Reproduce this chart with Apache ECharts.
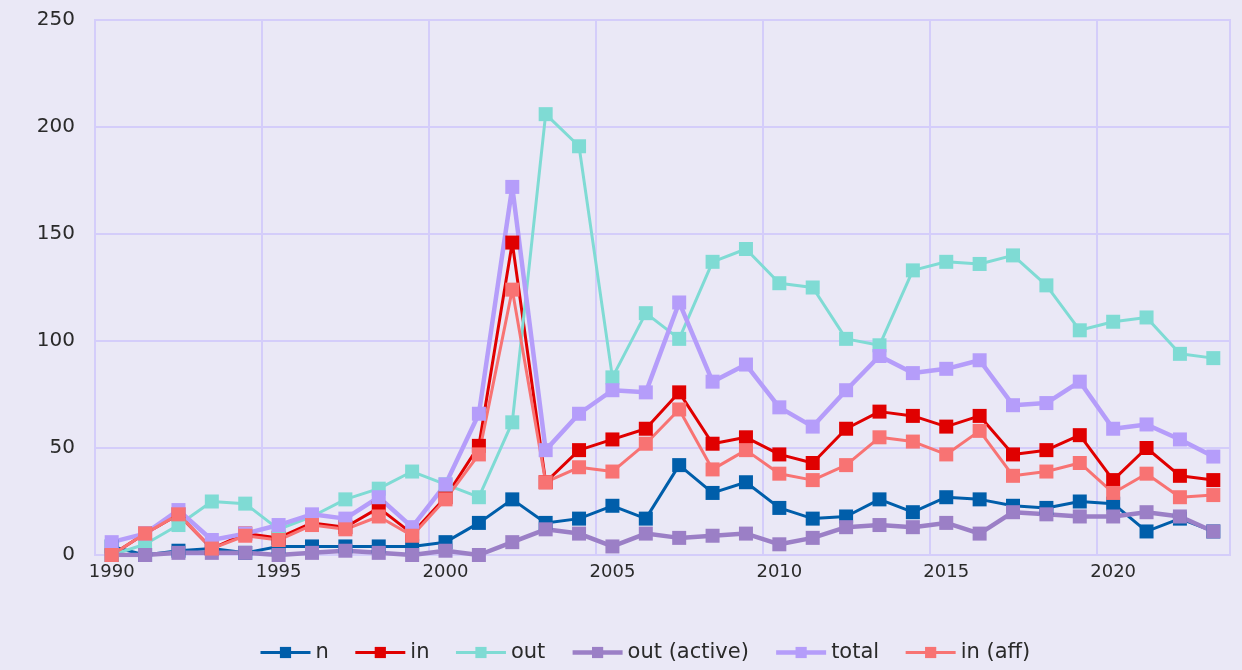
<!DOCTYPE html>
<html>
<head>
<meta charset="utf-8">
<script src="https://cdn.jsdelivr.net/npm/echarts@6/dist/echarts.min.js"></script>
<style>
  html, body { margin: 0; padding: 0; background: #eae8f6; }
  #chart { width: 1242px; height: 670px; }
</style>
</head>
<body>
<div id="chart"></div>
<script>
const years = [];
for (let y = 1990; y <= 2023; y++) years.push(String(y));

const nValues = [4, 0, 2, 3, 1, 4, 4, 4, 4, 4, 6, 15, 26, 15, 17, 23, 17, 42, 29, 34, 22, 17, 18, 26, 20, 27, 26, 23, 22, 25, 24, 11, 17, 11];
const inValues = [0, 10, 19, 3, 10, 8, 15, 13, 22, 10, 27, 51, 146, 34, 49, 54, 59, 76, 52, 55, 47, 43, 59, 67, 65, 60, 65, 47, 49, 56, 35, 50, 37, 35];
const outValues = [0, 5, 14, 25, 24, 12, 18, 26, 31, 39, 33, 27, 62, 206, 191, 83, 113, 101, 137, 143, 127, 125, 101, 98, 133, 137, 136, 140, 126, 105, 109, 111, 94, 92];
const outActiveValues = [0, 0, 1, 1, 1, 0, 1, 2, 1, 0, 2, 0, 6, 12, 10, 4, 10, 8, 9, 10, 5, 8, 13, 14, 13, 15, 10, 20, 19, 18, 18, 20, 18, 11];
const totalValues = [6, 10, 21, 7, 10, 14, 19, 17, 27, 13, 33, 66, 172, 49, 66, 77, 76, 118, 81, 89, 69, 60, 77, 93, 85, 87, 91, 70, 71, 81, 59, 61, 54, 46];
const inAffValues = [0, 10, 19, 3, 9, 7, 14, 12, 18, 9, 26, 47, 124, 34, 41, 39, 52, 68, 40, 49, 38, 35, 42, 55, 53, 47, 58, 37, 39, 43, 29, 38, 27, 28];

const seriesDefs = [
  { name: 'n', data: nValues, color: '#005eaa', width: 3 },
  { name: 'in', data: inValues, color: '#e00000', width: 3 },
  { name: 'out', data: outValues, color: '#7fdbd4', width: 3 },
  { name: 'out (active)', data: outActiveValues, color: '#9b7fc6', width: 4.5 },
  { name: 'total', data: totalValues, color: '#b59dfa', width: 4.5 },
  { name: 'in (aff)', data: inAffValues, color: '#f87373', width: 3 },
];

const gridColor = '#d4cdfa';
const textColor = '#2a2a2a';
const fontFamily = '"DejaVu Sans", sans-serif';
const chart = echarts.init(document.getElementById('chart'));

chart.setOption({
  backgroundColor: '#eae8f6',
  textStyle: { fontFamily: fontFamily },
  grid: {
    left: 95,
    right: 12,
    top: 20,
    bottom: 115,
    show: true,
    borderColor: gridColor,
    borderWidth: 2,
  },
  legend: {
    top: 637,
    left: 254,
    itemWidth: 50,
    itemHeight: 14,
    itemGap: 25,
    textStyle: { fontSize: 21, color: textColor, fontFamily: fontFamily },
    data: seriesDefs.map((s) => ({
      name: s.name,
      lineStyle: { width: s.width },
    })),
  },
  xAxis: {
    type: 'category',
    data: years,
    boundaryGap: true,
    axisLine: { lineStyle: { color: gridColor, width: 2 } },
    axisTick: { show: false, interval: 4 },
    axisLabel: { interval: 4, fontSize: 18, color: textColor, margin: 8 },
    splitLine: { show: true, interval: 4, lineStyle: { color: gridColor, width: 2 } },
  },
  yAxis: {
    type: 'value',
    min: 0,
    max: 250,
    interval: 50,
    axisLine: { show: true, lineStyle: { color: gridColor, width: 2 } },
    axisTick: { show: false },
    axisLabel: { fontSize: 20, color: textColor, margin: 20 },
    splitLine: { lineStyle: { color: gridColor, width: 2 } },
  },
  series: seriesDefs.map((s) => ({
    name: s.name,
    type: 'line',
    data: s.data,
    symbol: 'rect',
    symbolSize: 14,
    showAllSymbol: true,
    color: s.color,
    lineStyle: { color: s.color, width: s.width },
    itemStyle: { color: s.color },
    emphasis: { disabled: true },
    animation: false,
  })),
});
</script>
</body>
</html>
